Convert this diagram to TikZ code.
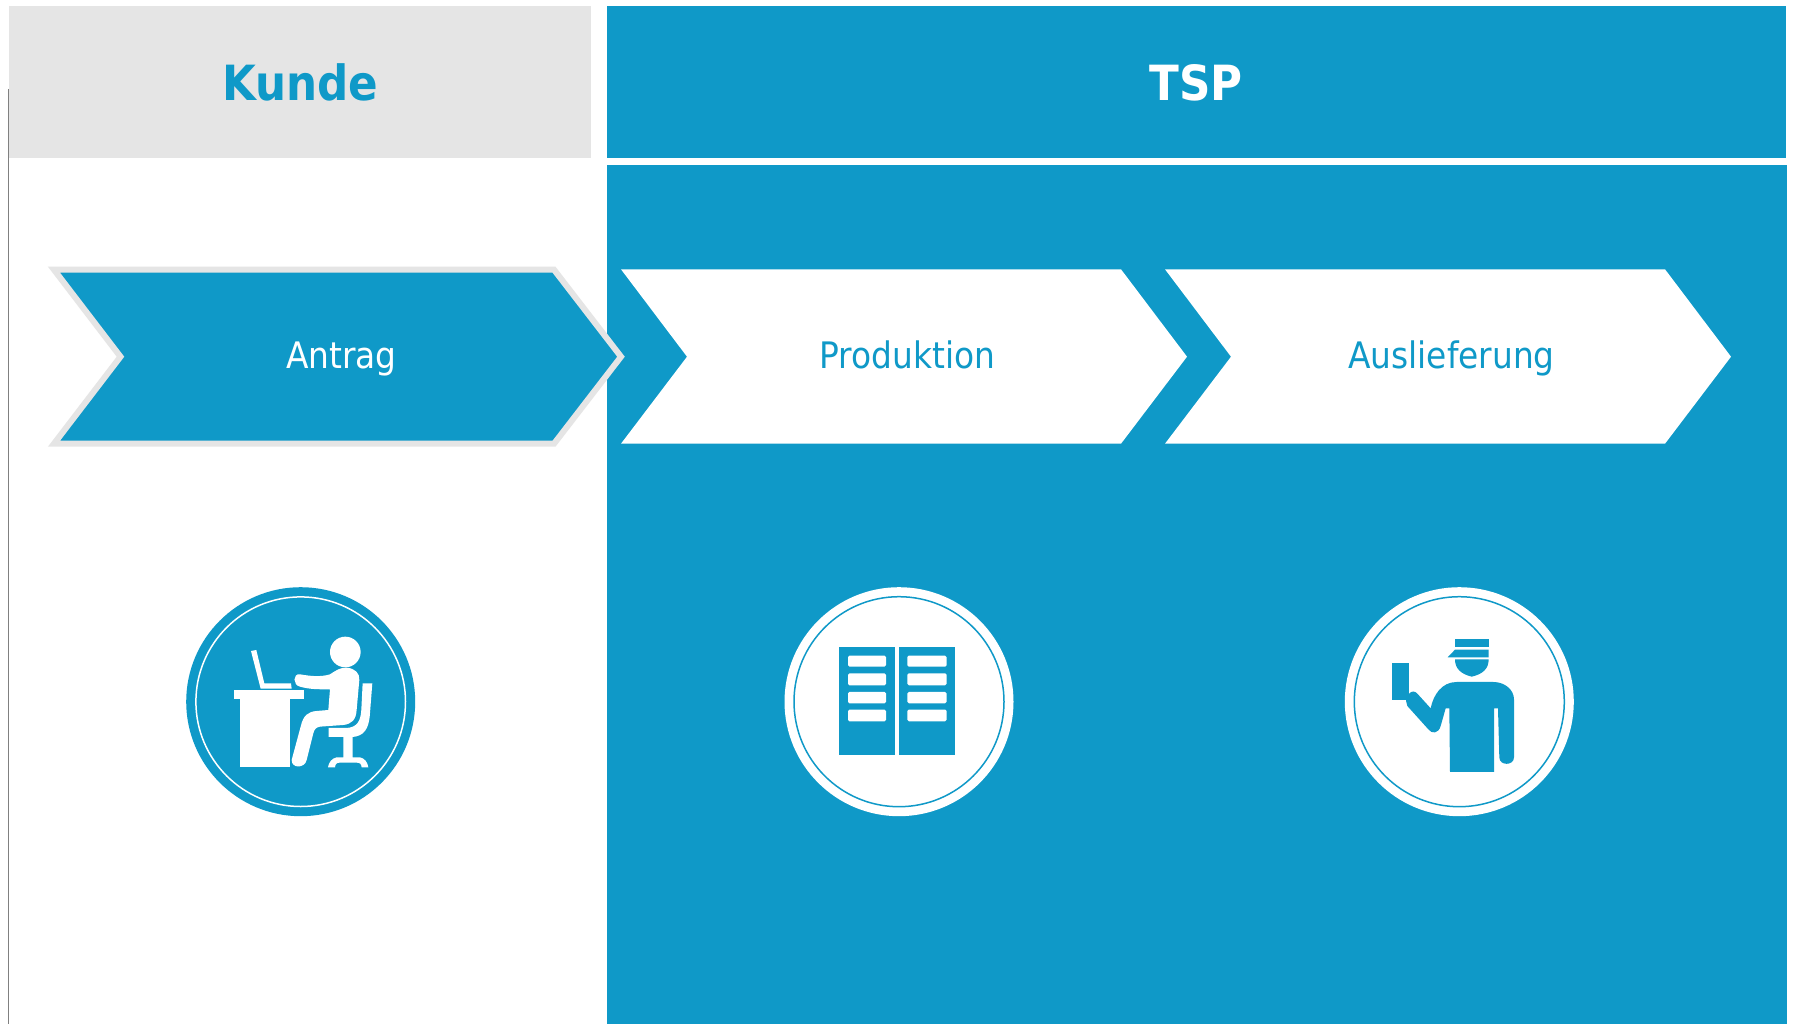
\documentclass[tikz,border=0pt]{standalone}
\usepackage{fontspec}
\setmainfont{DejaVu Sans}
\newfontfamily\condfont{DejaVu Sans Condensed}
\newfontfamily\headfont[FakeStretch=0.9]{DejaVu Sans}
\definecolor{tspblue}{HTML}{0F99C8}
\definecolor{lightgrey}{HTML}{E5E5E5}
\tikzset{
  headtext/.style={font=\headfont\bfseries\fontsize{48.5}{48.5}\selectfont,inner sep=0pt,anchor=base},
  steptext/.style={font=\condfont\fontsize{36.5}{36.5}\selectfont,inner sep=0pt,anchor=base},
}
\begin{document}
\begin{tikzpicture}[x=1pt,y=-1pt]
\useasboundingbox (0,0) rectangle (1795,1024);
\fill[white] (0,0) rectangle (1795,1024);
\draw[gray,line width=1.2pt] (8.5,89) -- (8.5,1024);
\fill[lightgrey] (9,6) rectangle (591,157.7);
\fill[tspblue] (607,6) rectangle (1786,157.7);
\fill[tspblue] (607,165) rectangle (1787,1024);
\node[headtext,text=tspblue] (kunde) at (300.5,101) {Kunde};
\node[headtext,text=white] (tsp) at (1196,101) {TSP};
% chevrons
\path[fill=tspblue,draw=lightgrey,line width=6pt,miter limit=10]
  (54,269.7) -- (554,269.7) -- (621,356.7) -- (554,443.7) -- (54,443.7) -- (120.5,356.7) -- cycle;
\fill[white] (621,269.3) -- (1121,269.3) -- (1187,356.7) -- (1121,443.7) -- (621,443.7) -- (687,356.7) -- cycle;
\fill[white] (1165,269.3) -- (1665,269.3) -- (1731,356.7) -- (1665,443.7) -- (1165,443.7) -- (1231,356.7) -- cycle;
\node[steptext,text=white] (antrag) at (341.5,368) {Antrag};
\node[steptext,text=tspblue] (produktion) at (907.5,368) {Produktion};
\node[steptext,text=tspblue] (auslieferung) at (1451.5,368) {Auslieferung};
% icon 1
\fill[tspblue] (300.7,701.7) circle (114.5);
\draw[white,line width=1.5pt] (300.7,701.7) circle (104.8);
\begin{scope}[shift={(170,570)},x=0.3333pt,y=-0.3333pt]
\fill[white] (526,246) circle (46);
\fill[white] (243,243) -- (259,240) -- (283,340) -- (363,340) -- (365,356) -- (272,356) -- cycle;
\fill[white] (191,361) rectangle (401,387);
\fill[white] (210,387) rectangle (360,591);
\fill[white] (390,313) .. controls (420,318) and (450,322) .. (480,313)
  .. controls (500,300) and (510,293) .. (530,293)
  .. controls (555,295) and (570,310) .. (568,330)
  -- (560,420) .. controls (558,450) and (545,462) .. (520,465)
  -- (450,470) .. controls (438,472) and (433,478) .. (430,490)
  -- (410,570) .. controls (405,595) and (365,597) .. (365,570)
  -- (392,470) .. controls (400,435) and (415,425) .. (440,423)
  -- (475,420) -- (480,358) .. controls (440,358) and (420,358) .. (390,350)
  .. controls (368,345) and (368,310) .. (390,313) -- cycle;
\fill[white] (578,340) -- (607,340) -- (600,430) .. controls (597,480) and (580,498) .. (548,501)
  -- (548,562) -- (570,562) .. controls (585,565) and (593,578) .. (595,592) -- (575,592)
  .. controls (574,582) and (570,578) .. (560,578) -- (510,578)
  .. controls (500,578) and (496,582) .. (495,592) -- (474,592)
  .. controls (476,578) and (485,565) .. (500,562) -- (520,562) -- (520,501) -- (476,501) -- (476,474)
  -- (530,474) .. controls (560,472) and (572,455) .. (574,420) -- cycle;
\end{scope}
% icon 2
\fill[white] (899,701.7) circle (114.5);
\draw[tspblue,line width=1.5pt] (899,701.7) circle (105);
\begin{scope}[shift={(770,570)},x=0.3333pt,y=-0.3333pt]
\fill[tspblue] (207,232) rectangle (375,555);
\fill[tspblue] (388,232) rectangle (554,555);
\foreach \ya/\yb in {257/290,310/346,366/400,419/454}{
  \fill[white,rounded corners=1.5pt] (234,\ya) rectangle (348,\yb);
  \fill[white,rounded corners=1.5pt] (412,\ya) rectangle (530,\yb);
}
\end{scope}
% icon 3
\fill[white] (1459.3,701.7) circle (114.5);
\draw[tspblue,line width=1.5pt] (1459.3,701.7) circle (105);
\begin{scope}[shift={(1330,570)},x=0.3333pt,y=-0.3333pt]
\fill[tspblue] (186,279) rectangle (236,389);
\fill[tspblue] (375,207) rectangle (476,230);
\fill[tspblue] (375,239) -- (476,239) -- (476,262) -- (353,262) -- cycle;
\fill[tspblue] (375,268) -- (476,268) .. controls (476,295) and (460,312) .. (425,320)
  .. controls (392,312) and (375,295) .. (375,268) -- cycle;
\fill[tspblue] (228,392) -- (236,372) .. controls (245,362) and (255,362) .. (263,372)
  -- (302,415) .. controls (310,375) and (335,336) .. (380,336) -- (490,336)
  .. controls (525,336) and (552,360) .. (552,388) -- (552,562)
  .. controls (552,588) and (508,588) .. (508,562) -- (504,415) -- (492,415) -- (492,606)
  -- (360,606) -- (358,415) -- (347,415) -- (332,468)
  .. controls (325,492) and (305,492) .. (295,478) -- (232,408) -- cycle;
\end{scope}
\end{tikzpicture}
\end{document}
